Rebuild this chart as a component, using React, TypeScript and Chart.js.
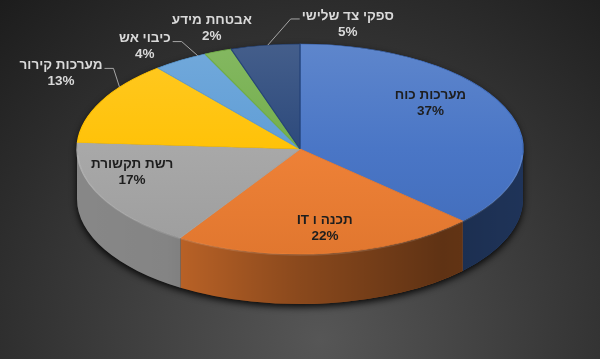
import { useEffect, useRef } from 'react';
import { Chart, registerables } from 'chart.js';

Chart.register(...registerables);

// ---------- data ----------
const categories = [
  'מערכות כוח',
  'תכנה ו IT',
  'רשת תקשורת',
  'מערכות קירור',
  'כיבוי אש',
  'אבטחת מידע',
  'ספקי צד שלישי',
];
const shares = [37, 22, 17, 13, 4, 2, 5];
const sliceColors = ['#4472C4', '#ED7D31', '#A5A5A5', '#FFC000', '#5B9BD5', '#70AD47', '#264478'];

// ---------- layout / style ----------
const RX = 223;
const RY = 105;
const DEPTH = 50;
// label placement relative to each slice: [radius factor, angle shift (deg), inside]
const labelPlacement: [number, number, boolean][] = [
  [0.727, -13, true],
  [0.765, -1.2, true],
  [0.784, 10.8, true],
  [1.291, 6.9, false],
  [1.198, -3.1, false],
  [1.214, 2.6, false],
  [1.21, 19.2, false],
];
// leader lines: [rim angle shift (deg), side of label ('r' = line leaves label's right side)] or null
const leaders: ([number, 'l' | 'r'] | null)[] = [null, null, null, [9, 'r'], [5.1, 'r'], null, [0.7, 'l']];

const FONT = 'bold 13.5px "Liberation Sans", Arial, sans-serif';
const LINE_GAP = 16;

function hexToRgb(h: string): [number, number, number] {
  const n = parseInt(h.slice(1), 16);
  return [(n >> 16) & 255, (n >> 8) & 255, n & 255];
}
function shade(h: string, f: number): string {
  const [r, g, b] = hexToRgb(h);
  const m = (c: number) =>
    Math.round(f >= 0 ? c + (255 - c) * f : c * (1 + f));
  return `rgb(${m(r)},${m(g)},${m(b)})`;
}

const pie3d = {
  id: 'pie3d',
  beforeDraw(chart: any) {
    const { ctx, width, height } = chart;
    ctx.save();
    const g = ctx.createRadialGradient(320, 340, 0, 320, 340, 470);
    g.addColorStop(0, '#565656');
    g.addColorStop(0.45, '#3c3c3c');
    g.addColorStop(1, '#1c1c1c');
    ctx.fillStyle = g;
    ctx.fillRect(0, 0, width, height);
    ctx.restore();
  },
  beforeDatasetsDraw(chart: any) {
    const ctx = chart.ctx;
    const arcs = chart.getDatasetMeta(0).data;
    if (!arcs.length) return;
    const cx = arcs[0].x;
    const cy = arcs[0].y;
    const r = arcs[0].outerRadius;

    // shadow under the pie
    ctx.save();
    ctx.shadowColor = 'rgba(0,0,0,0.9)';
    ctx.shadowBlur = 7;
    ctx.shadowOffsetY = 3;
    ctx.beginPath();
    ctx.ellipse(cx, cy, RX, RY, 0, Math.PI, Math.PI * 2);
    ctx.ellipse(cx, cy + DEPTH, RX, RY, 0, 0, Math.PI);
    ctx.closePath();
    ctx.fillStyle = '#111';
    ctx.fill();
    ctx.restore();

    // side walls
    const shadeGrad = ctx.createLinearGradient(cx - RX, 0, cx + RX, 0);
    shadeGrad.addColorStop(0, 'rgba(0,0,0,0.18)');
    shadeGrad.addColorStop(0.2, 'rgba(0,0,0,0.2)');
    shadeGrad.addColorStop(0.5, 'rgba(0,0,0,0.42)');
    shadeGrad.addColorStop(0.82, 'rgba(0,0,0,0.6)');
    shadeGrad.addColorStop(1, 'rgba(0,0,0,0.55)');
    arcs.forEach((arc: any, i: number) => {
      const s = Math.max(arc.startAngle, 0);
      const e = Math.min(arc.endAngle, Math.PI);
      if (e <= s) return;
      ctx.save();
      ctx.beginPath();
      ctx.ellipse(cx, cy, RX, RY, 0, s, e);
      ctx.ellipse(cx, cy + DEPTH, RX, RY, 0, e, s, true);
      ctx.closePath();
      ctx.fillStyle = sliceColors[i];
      ctx.fill();
      ctx.fillStyle = shadeGrad;
      ctx.fill();
      ctx.restore();
    });

    // squash the library's round pie into the ellipse of the top face
    ctx.save();
    ctx.translate(cx, cy);
    ctx.scale(RX / r, RY / r);
    ctx.translate(-cx, -cy);
  },
  afterDatasetsDraw(chart: any) {
    const ctx = chart.ctx;
    ctx.restore();
    const arcs = chart.getDatasetMeta(0).data;
    if (!arcs.length) return;
    const cx = arcs[0].x;
    const cy = arcs[0].y;

    // light edge along front rim
    ctx.save();
    ctx.beginPath();
    ctx.ellipse(cx, cy + 1, RX - 0.5, RY, 0, 0.05, Math.PI - 0.05);
    ctx.strokeStyle = 'rgba(255,255,255,0.12)';
    ctx.lineWidth = 1.5;
    ctx.stroke();
    ctx.restore();

    ctx.save();
    ctx.font = FONT;
    ctx.textAlign = 'center';
    ctx.textBaseline = 'middle';
    arcs.forEach((arc: any, i: number) => {
      const [fr, dDeg, inside] = labelPlacement[i];
      const mid = (arc.startAngle + arc.endAngle) / 2 + (dDeg * Math.PI) / 180;
      const x = cx + RX * fr * Math.cos(mid);
      const yMid = cy + RY * fr * Math.sin(mid);
      const y1 = yMid - LINE_GAP / 2;
      const y2 = yMid + LINE_GAP / 2;
      const name = categories[i];
      const pct = `${shares[i]}%`;
      ctx.direction = 'rtl';
      const w = ctx.measureText(name).width;

      const ld = leaders[i];
      if (ld) {
        const ra = (arc.startAngle + arc.endAngle) / 2 + (ld[0] * Math.PI) / 180;
        const rxp = cx + RX * Math.cos(ra);
        const ryp = cy + RY * Math.sin(ra);
        const sign = ld[1] === 'r' ? 1 : -1;
        const edge = x + (sign * w) / 2;
        const ly = y1 + 3;
        ctx.save();
        ctx.strokeStyle = '#a6a6a6';
        ctx.lineWidth = 1;
        ctx.beginPath();
        ctx.moveTo(edge + sign * 2, ly);
        ctx.lineTo(edge + sign * 11, ly);
        ctx.lineTo(rxp, ryp);
        ctx.stroke();
        ctx.restore();
      }

      ctx.fillStyle = inside ? '#1e1e1e' : '#d9d9d9';
      ctx.fillText(name, x, y1);
      ctx.direction = 'ltr';
      ctx.fillText(pct, x, y2);
    });
    ctx.restore();
  },
};

export default function App() {
  const ref = useRef<HTMLCanvasElement | null>(null);
  useEffect(() => {
    document.body.style.margin = '0';
    const canvas = ref.current;
    if (!canvas) return;
    const chart = new Chart(canvas, {
      type: 'pie',
      data: {
        labels: categories,
        datasets: [
          {
            data: shares,
            clip: false,
            borderWidth: 0.6,
            backgroundColor: (c: any) => {
              const base = sliceColors[c.dataIndex];
              const area = c.chart.chartArea;
              if (!area) return base;
              const g = c.chart.ctx.createLinearGradient(0, area.top, 0, area.bottom);
              g.addColorStop(0, shade(base, 0.14));
              g.addColorStop(0.5, shade(base, 0.03));
              g.addColorStop(1, shade(base, -0.05));
              return g;
            },
            borderColor: (c: any) => sliceColors[c.dataIndex],
          } as any,
        ],
      },
      options: {
        animation: false,
        responsive: false,
        devicePixelRatio: 1,
        events: [],
        layout: { padding: { left: 200, right: 200, top: 49, bottom: 110 } },
        plugins: {
          legend: { display: false },
          tooltip: { enabled: false },
        },
      },
      plugins: [pie3d],
    });
    return () => chart.destroy();
  }, []);
  return (
    <div style={{ width: 600, height: 359 }}>
      <canvas ref={ref} width={600} height={359} style={{ display: 'block' }} />
    </div>
  );
}
